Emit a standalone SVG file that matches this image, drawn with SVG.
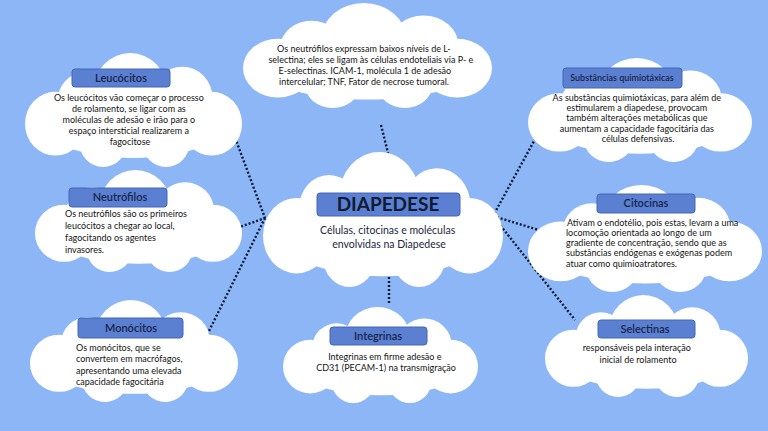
<svg xmlns="http://www.w3.org/2000/svg" xmlns:xlink="http://www.w3.org/1999/xlink" width="768" height="431" viewBox="0 0 768 431">
<defs>
<symbol id="cloud" viewBox="0 0 200 100" preserveAspectRatio="none">
<g fill="#ffffff">
<circle cx="28" cy="62" r="28"/>
<circle cx="55" cy="42" r="25"/>
<circle cx="97" cy="34" r="34"/>
<circle cx="145" cy="40" r="28"/>
<circle cx="172" cy="62" r="28"/>
<ellipse cx="100" cy="62" rx="85" ry="30"/>
<circle cx="72" cy="78" r="22"/>
<circle cx="130" cy="78" r="22"/>
</g>
</symbol>
<style>
.lbl{fill:#5b7fd1;stroke:#4466b8;stroke-width:1}
.ttl{font-family:Lato,"Open Sans",sans-serif;font-size:11px;font-weight:600;fill:#16254a;text-anchor:middle}
.txt{font-family:Lato,"Open Sans",sans-serif;font-size:9px;fill:#141414}
.c{text-anchor:middle}
.con{stroke:#0c1a38;stroke-width:2.4;stroke-dasharray:2 2;fill:none}
</style>
</defs>
<rect width="768" height="431" fill="#8cb6f6"/>

<g id="connectors">
<line class="con" x1="224" y1="108" x2="265" y2="218"/>
<line class="con" x1="226" y1="232" x2="265" y2="218"/>
<line class="con" x1="265" y1="218" x2="207" y2="335"/>
<line class="con" x1="381" y1="125" x2="388" y2="153"/>
<line class="con" x1="389" y1="277" x2="389" y2="305"/>
<line class="con" x1="551" y1="110" x2="493" y2="216"/>
<line class="con" x1="493" y1="216" x2="555" y2="235"/>
<line class="con" x1="493" y1="216" x2="575" y2="320"/>
</g>

<g id="leucocitos">
<use xlink:href="#cloud" x="25" y="53" width="217" height="114"/>
<rect class="lbl" x="72" y="69" width="98" height="18" rx="3"/>
<text class="ttl" x="121" y="82">Leucócitos</text>
<text class="txt c" x="130">
<tspan x="130" y="101">Os leucócitos vão começar o processo</tspan>
<tspan x="130" y="112">de rolamento, se ligar com as</tspan>
<tspan x="130" y="123">moléculas de adesão e irão para o</tspan>
<tspan x="130" y="134">espaço intersticial realizarem a</tspan>
<tspan x="130" y="145">fagocitose</tspan>
</text>
</g>

<g id="topnote">
<use xlink:href="#cloud" x="243" y="3" width="249" height="105"/>
<text class="txt c">
<tspan x="365" y="52">Os neutrófilos expressam baixos níveis de L-</tspan>
<tspan x="372" y="63">selectina; eles se ligam às células endoteliais via P- e</tspan>
<tspan x="366" y="74">E-selectinas. ICAM-1, molécula 1 de adesão</tspan>
<tspan x="364" y="85">intercelular; TNF, Fator de necrose tumoral.</tspan>
</text>
</g>

<g id="substancias">
<use xlink:href="#cloud" x="528" y="58" width="224" height="104"/>
<rect class="lbl" x="563" y="68" width="119" height="20" rx="3"/>
<text class="ttl" x="622" y="81" style="font-size:9px">Substâncias quimiotáxicas</text>
<text class="txt c">
<tspan x="638" y="101">As substâncias quimiotáxicas, para além de</tspan>
<tspan x="638" y="111">estimularem a diapedese, provocam</tspan>
<tspan x="638" y="121">também alterações metabólicas que</tspan>
<tspan x="638" y="132">aumentam a capacidade fagocitária das</tspan>
<tspan x="638" y="142">células defensivas.</tspan>
</text>
</g>

<g id="neutrofilos">
<use xlink:href="#cloud" x="35" y="170" width="207" height="102"/>
<rect class="lbl" x="69" y="188" width="98" height="19" rx="3"/>
<text class="ttl" x="120" y="201">Neutrófilos</text>
<text class="txt">
<tspan x="65" y="217">Os neutrófilos são os primeiros</tspan>
<tspan x="65" y="229">leucócitos a chegar ao local,</tspan>
<tspan x="65" y="241">fagocitando os agentes</tspan>
<tspan x="65" y="253">invasores.</tspan>
</text>
</g>

<g id="diapedese">
<use xlink:href="#cloud" x="263" y="152" width="240" height="135"/>
<rect class="lbl" x="317" y="193" width="143" height="23" rx="3"/>
<text x="388" y="211" style="font-family:Lato,'Open Sans',sans-serif;font-size:19px;font-weight:700;fill:#0f1a33;text-anchor:middle">DIAPEDESE</text>
<text class="txt c" style="font-size:10.5px;fill:#1b2740">
<tspan x="389" y="234">Células, citocinas e moléculas</tspan>
<tspan x="389" y="248">envolvidas na Diapedese</tspan>
</text>
</g>

<g id="citocinas">
<use xlink:href="#cloud" x="528" y="185" width="234" height="107"/>
<rect class="lbl" x="597" y="194" width="98" height="19" rx="3"/>
<text class="ttl" x="646" y="207">Citocinas</text>
<text class="txt">
<tspan x="567" y="226"> Ativam o endotélio, pois estas, levam a uma</tspan>
<tspan x="566" y="236">locomoção orientada ao longo de um</tspan>
<tspan x="566" y="246">gradiente de concentração, sendo que as</tspan>
<tspan x="566" y="256">substâncias endógenas e exógenas podem</tspan>
<tspan x="566" y="267">atuar como quimioatratores.</tspan>
</text>
</g>

<g id="monocitos">
<use xlink:href="#cloud" x="30" y="300" width="208" height="102"/>
<rect class="lbl" x="78" y="318" width="105" height="20" rx="3"/>
<text class="ttl" x="131" y="332">Monócitos</text>
<text class="txt">
<tspan x="76" y="351">Os monócitos, que se</tspan>
<tspan x="76" y="362">convertem em macrófagos,</tspan>
<tspan x="76" y="374">apresentando uma elevada</tspan>
<tspan x="76" y="385">capacidade fagocitária</tspan>
</text>
</g>

<g id="integrinas">
<use xlink:href="#cloud" x="283" y="307" width="195" height="96"/>
<rect class="lbl" x="330" y="327" width="97" height="18" rx="3"/>
<text class="ttl" x="378" y="340">Integrinas</text>
<text class="txt c">
<tspan x="386" y="360">Integrinas em firme adesão e</tspan>
<tspan x="386" y="371">CD31 (PECAM-1) na transmigração</tspan>
</text>
</g>

<g id="selectinas">
<use xlink:href="#cloud" x="545" y="295" width="203" height="102"/>
<rect class="lbl" x="598" y="320" width="97" height="18" rx="3"/>
<text class="ttl" x="645" y="333">Selectinas</text>
<text class="txt c">
<tspan x="638" y="351">responsáveis pela interação</tspan>
<tspan x="638" y="363">inicial de rolamento</tspan>
</text>
</g>
</svg>
